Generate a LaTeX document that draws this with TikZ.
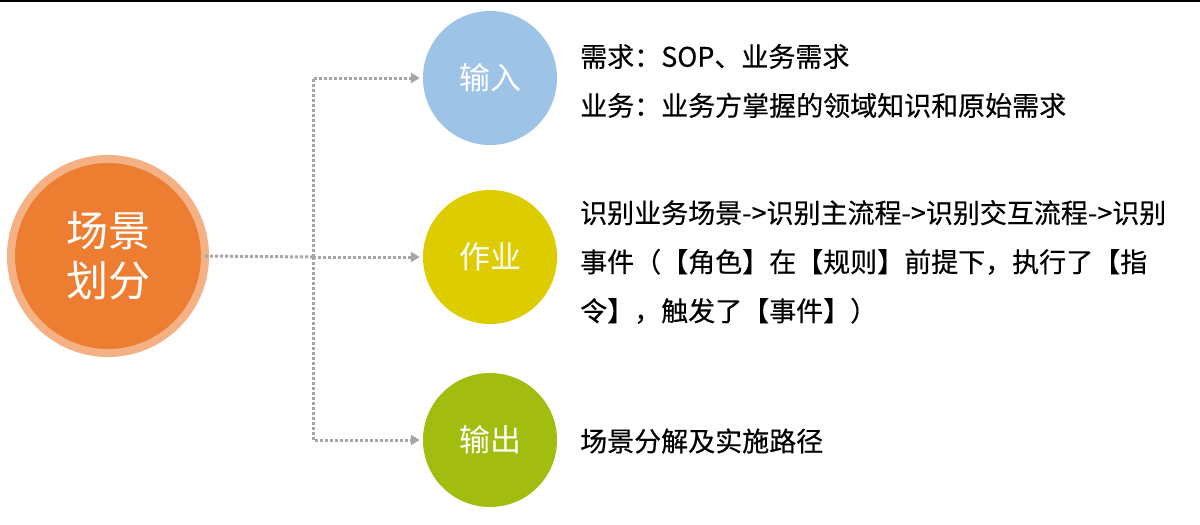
\documentclass[tikz,border=0pt]{standalone}
\usepackage{fontspec}
\setmainfont{Noto Sans CJK SC}
\newfontfamily\descfont{Noto Sans CJK SC}[FakeBold=0.4]
\usetikzlibrary{arrows.meta}
\definecolor{cOrange}{HTML}{ED7D31}
\definecolor{cRing}{HTML}{F4B183}
\definecolor{cBlue}{HTML}{9DC3E6}
\definecolor{cYellow}{HTML}{DDCC00}
\definecolor{cGreen}{HTML}{A2BD0F}
\definecolor{cGray}{HTML}{A6A6A6}
\begin{document}
\begin{tikzpicture}[x=1pt,y=-1pt,
  stepcircle/.style={circle,minimum size=134pt,inner sep=0pt,text=white,font=\fontsize{31}{36}\selectfont},
  conn/.style={draw=cGray,line width=3pt,dash pattern=on 3pt off 2pt},
  connarrow/.style={conn,-{Triangle[length=9pt,width=10pt]},shorten >=3pt},
  desc/.style={anchor=west,align=left,inner sep=0pt,font=\descfont\fontsize{27}{49}\selectfont}]
\useasboundingbox (0,0) rectangle (1200,525);
\fill[white] (0,0) rectangle (1200,525);
\draw[line width=1.5pt] (0,0.75) -- (1200,0.75);
\node[circle,minimum size=194pt,inner sep=0pt,fill=cOrange,draw=cRing,line width=8pt,text=white,align=center,font=\fontsize{42}{50}\selectfont] (m) at (108,256) {场景\\划分};
\node[stepcircle,fill=cBlue] (a) at (490,78) {输入};
\node[stepcircle,fill=cYellow] (b) at (490,257) {作业};
\node[stepcircle,fill=cGreen] (c) at (490,440) {输出};
\coordinate (j) at (313,257);
\draw[conn] (m.east) ++(-4,0) -- (j);
\draw[connarrow] (j) |- (a.west);
\draw[connarrow] (j) -- (b.west);
\draw[connarrow] (j) |- (c.west);
\node[desc] (ta) at (580,81) {需求：SOP、业务需求\\业务：业务方掌握的领域知识和原始需求};
\node[desc] (tb) at (580,262) {识别业务场景->识别主流程->识别交互流程->识别\\事件（【角色】在【规则】前提下，执行了【指\\令】，触发了【事件】）};
\node[desc] (tc) at (580,441) {场景分解及实施路径};
\end{tikzpicture}
\end{document}
